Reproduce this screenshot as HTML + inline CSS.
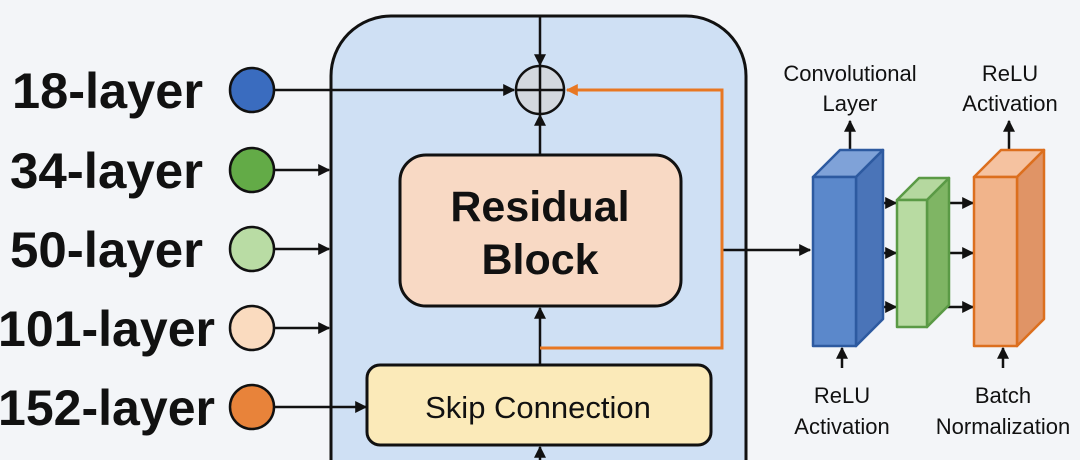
<!DOCTYPE html>
<html><head><meta charset="utf-8"><style>
html,body{margin:0;padding:0;background:#f3f5f8;width:1080px;height:460px;overflow:hidden;}
svg{display:block;font-family:"Liberation Sans",Arial,sans-serif;}
</style></head><body>
<svg width="1080" height="460" viewBox="0 0 1080 460" xmlns="http://www.w3.org/2000/svg">
<defs>
<marker id="ak" viewBox="0 0 10 10" refX="9" refY="5" markerWidth="12" markerHeight="12" orient="auto" markerUnits="userSpaceOnUse"><path d="M0,0 L10,5 L0,10 z" fill="#111"/></marker>
<marker id="ao" viewBox="0 0 10 10" refX="9" refY="5" markerWidth="12" markerHeight="12" orient="auto" markerUnits="userSpaceOnUse"><path d="M0,0 L10,5 L0,10 z" fill="#e87722"/></marker>
</defs>
<rect width="1080" height="460" fill="#f3f5f8"/>
<path d="M331,470 L331,76 A60,60 0 0 1 391,16 L686,16 A60,60 0 0 1 746,76 L746,470 Z" fill="#cfe0f4" stroke="#111" stroke-width="3"/>
<g font-weight="bold" font-size="50" fill="#111">
<text x="12" y="108" textLength="191" lengthAdjust="spacingAndGlyphs">18-layer</text>
<text x="10" y="188" textLength="193" lengthAdjust="spacingAndGlyphs">34-layer</text>
<text x="10" y="267" textLength="193" lengthAdjust="spacingAndGlyphs">50-layer</text>
<text x="-2" y="346" textLength="217" lengthAdjust="spacingAndGlyphs">101-layer</text>
<text x="-2" y="425" textLength="217" lengthAdjust="spacingAndGlyphs">152-layer</text>
</g>
<g stroke="#111" stroke-width="2.5">
<circle cx="252" cy="90" r="22" fill="#3a6cbf"/>
<circle cx="252" cy="170" r="22" fill="#63ab47"/>
<circle cx="252" cy="249" r="22" fill="#b9dca4"/>
<circle cx="252" cy="328" r="22" fill="#fadbbf"/>
<circle cx="252" cy="407" r="22" fill="#e8833a"/>
</g>
<g stroke="#111" stroke-width="2.5" fill="none" marker-end="url(#ak)">
<line x1="274" y1="90" x2="514" y2="90"/>
<line x1="274" y1="170" x2="329" y2="170"/>
<line x1="274" y1="249" x2="329" y2="249"/>
<line x1="274" y1="328" x2="329" y2="328"/>
<line x1="274" y1="407" x2="366" y2="407"/>
<line x1="540" y1="17" x2="540" y2="65"/>
<line x1="540" y1="155" x2="540" y2="115"/>
<line x1="540" y1="365" x2="540" y2="308"/>
<line x1="540" y1="470" x2="540" y2="447"/>
<line x1="722" y1="250" x2="810" y2="250"/>
<line x1="850" y1="150" x2="850" y2="121"/>
<line x1="1009" y1="150" x2="1009" y2="121"/>
<line x1="842" y1="368" x2="842" y2="348"/>
<line x1="1003" y1="368" x2="1003" y2="348"/>
<line x1="862" y1="203" x2="896" y2="203"/>
<line x1="862" y1="253" x2="896" y2="253"/>
<line x1="862" y1="307" x2="896" y2="307"/>
<line x1="937" y1="203" x2="973" y2="203"/>
<line x1="937" y1="253" x2="973" y2="253"/>
<line x1="937" y1="307" x2="973" y2="307"/>
</g>
<polyline points="540,348 722,348 722,90 567,90" fill="none" stroke="#e87722" stroke-width="3" marker-end="url(#ao)"/>
<circle cx="540" cy="90" r="24" fill="#d3d8df" stroke="#111" stroke-width="2.5"/>
<line x1="516" y1="90" x2="564" y2="90" stroke="#111" stroke-width="2.5"/>
<line x1="540" y1="66" x2="540" y2="114" stroke="#111" stroke-width="2.5"/>
<rect x="400" y="155" width="281" height="151" rx="26" fill="#f8d9c4" stroke="#111" stroke-width="3"/>
<text x="540" y="221" text-anchor="middle" font-weight="bold" font-size="43" fill="#111">Residual</text>
<text x="540" y="274" text-anchor="middle" font-weight="bold" font-size="43" fill="#111">Block</text>
<rect x="367" y="365" width="344" height="80" rx="13" fill="#fbeab9" stroke="#111" stroke-width="3"/>
<text x="538" y="418" text-anchor="middle" font-size="31" fill="#111">Skip Connection</text>
<g stroke-width="2.5" stroke-linejoin="round">
<polygon points="813,177 840,150 883,150 856,177" fill="#7fa2d8" stroke="#2d5aa0"/>
<polygon points="856,177 883,150 883,319 856,346" fill="#4a74b8" stroke="#2d5aa0"/>
<rect x="813" y="177" width="43" height="169" fill="#5b88cb" stroke="#2d5aa0"/>
<polygon points="897,200 919,178 949,178 927,200" fill="#b5d89f" stroke="#5a9a45"/>
<polygon points="927,200 949,178 949,305 927,327" fill="#7fb564" stroke="#5a9a45"/>
<rect x="897" y="200" width="30" height="127" fill="#b8dba2" stroke="#5a9a45"/>
<polygon points="974,177 1001,150 1044,150 1017,177" fill="#f5c2a0" stroke="#dc6f1e"/>
<polygon points="1017,177 1044,150 1044,319 1017,346" fill="#e09466" stroke="#dc6f1e"/>
<rect x="974" y="177" width="43" height="169" fill="#f1b48b" stroke="#dc6f1e"/>
</g>
<g font-size="22" fill="#111" text-anchor="middle">
<text x="850" y="81">Convolutional</text>
<text x="850" y="111">Layer</text>
<text x="1010" y="81">ReLU</text>
<text x="1010" y="111">Activation</text>
<text x="842" y="403">ReLU</text>
<text x="842" y="434">Activation</text>
<text x="1003" y="403">Batch</text>
<text x="1003" y="434">Normalization</text>
</g>
</svg>
</body></html>
